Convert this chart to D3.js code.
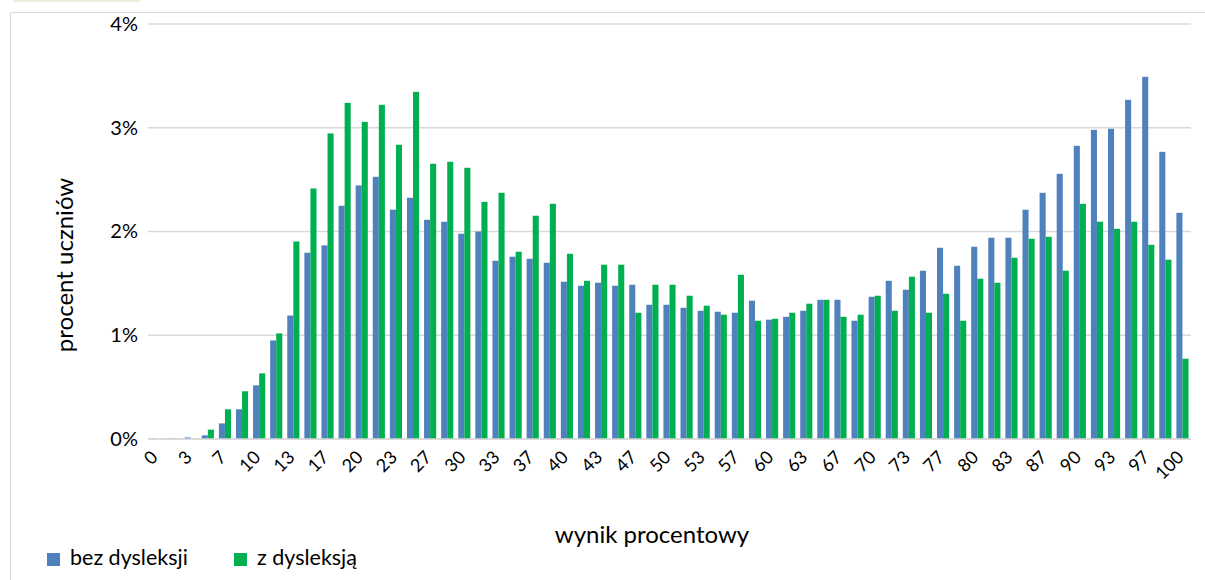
<!DOCTYPE html>
<html>
<head>
<meta charset="utf-8">
<script src="https://cdn.jsdelivr.net/npm/d3@7"></script>
<style>
  body { margin: 0; background: #fff; }
  svg { display: block; font-family: Lato, "Open Sans", sans-serif; }
</style>
</head>
<body>
<div id="chart"></div>
<script>
// ***** data *****
const categories = ["0","2","3","5","7","8","10","12","13","15","17","18","20","22","23","25","27","28","30","32",
  "33","35","37","38","40","42","43","45","47","48","50","52","53","55","57","58","60","62","63","65",
  "67","68","70","72","73","75","77","78","80","82","83","85","87","88","90","92","93","95","97","98","100"]

// percent of students, without dyslexia
const bezDysleksji = [0.005, 0.005, 0.015, 0.035, 0.15, 0.286, 0.517, 0.95, 1.19, 1.795, 1.866, 2.248, 2.444, 2.527, 2.21, 2.325, 2.113, 2.094, 1.978, 2.0,
  1.718, 1.757, 1.737, 1.699, 1.516, 1.477, 1.506, 1.477, 1.487, 1.294, 1.294, 1.265, 1.236, 1.227, 1.217, 1.333, 1.15, 1.178, 1.236, 1.342,
  1.342, 1.14, 1.371, 1.525, 1.439, 1.622, 1.843, 1.67, 1.853, 1.94, 1.94, 2.21, 2.373, 2.556, 2.826, 2.98, 2.99, 3.269, 3.491, 2.768, 2.18]

// percent of students, with dyslexia
const zDysleksja = [0, 0, 0, 0.09, 0.286, 0.46, 0.633, 1.018, 1.904, 2.415, 2.945, 3.24, 3.057, 3.221, 2.836, 3.346, 2.653, 2.672, 2.614, 2.286,
  2.373, 1.805, 2.152, 2.267, 1.785, 1.525, 1.68, 1.68, 1.217, 1.487, 1.487, 1.381, 1.285, 1.198, 1.583, 1.14, 1.159, 1.217, 1.304, 1.342,
  1.178, 1.198, 1.381, 1.236, 1.564, 1.217, 1.4, 1.14, 1.545, 1.506, 1.747, 1.93, 1.949, 1.622, 2.267, 2.094, 2.026, 2.094, 1.872, 1.728, 0.774]

const seriesNames = ["bez dysleksji", "z dysleksją"]
const colors = ["#4f81bd", "#00b050"]
const yTicks = [0, 1, 2, 3, 4]

// ***** layout *****
const W = 1205, H = 580
const margin = { top: 24, right: 14, bottom: 141, left: 148 }
const width = W - margin.left - margin.right
const height = H - margin.top - margin.bottom

const svg = d3.select("#chart")
  .append("svg")
  .attr("width", W)
  .attr("height", H)

// chart frame (cropped) and the sliver at the top
svg.append("rect")
  .attr("x", 13).attr("y", 0)
  .attr("width", 127).attr("height", 2)
  .attr("fill", "#e8f1dc")

svg.append("path")
  .attr("d", "M10.5,580 V12.5 H1205")
  .attr("fill", "none")
  .attr("stroke", "#d9d9d9")
  .attr("stroke-width", 1)

const g = svg.append("g")
  .attr("transform", "translate(" + margin.left + "," + margin.top + ")")

const x = d3.scaleBand()
  .domain(categories)
  .range([0, width])
  .paddingInner(0.29)
  .paddingOuter(0.145)

const x1 = d3.scaleBand()
  .domain(seriesNames)
  .range([0, x.bandwidth()])

const y = d3.scaleLinear()
  .domain([0, 4])
  .range([height, 0])

// gridlines
g.selectAll(".grid")
  .data(yTicks)
  .enter()
  .append("line")
  .attr("class", "grid")
  .attr("x1", 0)
  .attr("x2", width)
  .attr("y1", d => y(d))
  .attr("y2", d => y(d))
  .attr("stroke", "#d9d9d9")
  .attr("stroke-width", 1.5)

// y axis labels
const yAxis = d3.axisLeft(y)
  .tickValues(yTicks)
  .tickSize(0)
  .tickPadding(10)
  .tickFormat(d => d + "%")

g.append("g")
  .call(yAxis)
  .call(a => a.select(".domain").remove())
  .selectAll("text")
  .style("font-size", "20px")
  .style("font-family", "Lato, sans-serif")
  .attr("fill", "#000")

// bars
const rows = categories.map((c, i) => ({ cat: c, vals: [bezDysleksji[i], zDysleksja[i]] }))

const groups = g.selectAll(".grp")
  .data(rows)
  .enter()
  .append("g")
  .attr("class", "grp")
  .attr("transform", d => "translate(" + x(d.cat) + ",0)")

groups.selectAll("rect")
  .data(d => d.vals.map((v, j) => ({ key: seriesNames[j], v: v, j: j })))
  .enter()
  .append("rect")
  .attr("x", d => x1(d.key))
  .attr("width", x1.bandwidth())
  .attr("y", d => y(d.v))
  .attr("height", d => height - y(d.v))
  .attr("fill", d => colors[d.j])

// baseline
g.append("line")
  .attr("x1", 0).attr("x2", width)
  .attr("y1", height).attr("y2", height)
  .attr("stroke", "#d9d9d9")
  .attr("stroke-width", 1.5)

// x axis labels, every other category, rotated
const xAxis = d3.axisBottom(x)
  .tickValues(categories.filter((c, i) => i % 2 === 0))
  .tickSize(0)
  .tickPadding(0)

g.append("g")
  .attr("transform", "translate(0," + height + ")")
  .call(xAxis)
  .call(a => a.select(".domain").remove())
  .selectAll("text")
  .style("font-size", "18px")
  .style("font-family", "Lato, sans-serif")
  .attr("fill", "#000")
  .attr("text-anchor", "end")
  .attr("y", 0)
  .attr("dy", "0.35em")
  .attr("transform", "translate(-2,15) rotate(-45)")

// axis titles
svg.append("text")
  .attr("transform", "translate(73,265) rotate(-90)")
  .attr("text-anchor", "middle")
  .style("font-size", "24px")
  .text("procent uczniów")

svg.append("text")
  .attr("x", 652)
  .attr("y", 543)
  .attr("text-anchor", "middle")
  .style("font-size", "24px")
  .text("wynik procentowy")

// legend
const legend = svg.selectAll(".legend")
  .data(seriesNames)
  .enter()
  .append("g")
  .attr("class", "legend")
  .attr("transform", (d, i) => "translate(" + [47, 234][i] + ",553)")

legend.append("rect")
  .attr("width", 13)
  .attr("height", 13)
  .attr("fill", (d, i) => colors[i])

legend.append("text")
  .attr("x", 23)
  .attr("y", 12)
  .style("font-size", "21.5px")
  .text(d => d)
</script>
</body>
</html>
